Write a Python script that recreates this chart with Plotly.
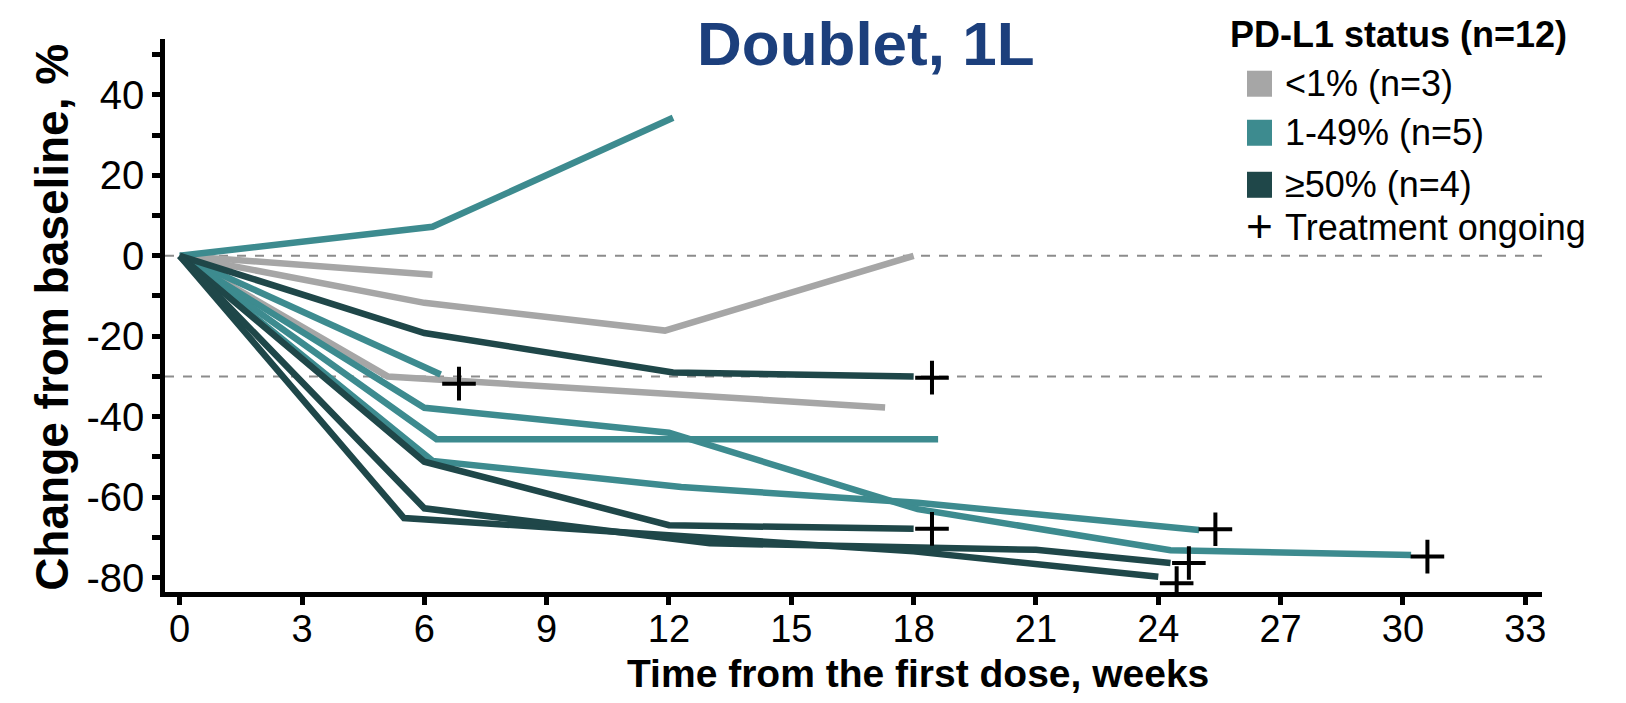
import plotly.graph_objects as go

# Weeks since first dose / % change from baseline, one list per patient
LOW_WEEKS = [[0, 6.2], [0, 6, 11.9, 18], [0, 5.1, 17.3]]
LOW_CHANGE = [[0, -4.7], [0, -11.7, -18.6, 0], [0, -30, -37.7]]

MID_WEEKS = [
    [0, 6.2, 12.1],
    [0, 6.4],
    [0, 6, 12, 18.1, 24.3, 30.2],
    [0, 6.3, 18.6],
    [0, 6.2, 12.3, 18.1, 25],
]
MID_CHANGE = [
    [0, 7.2, 34.3],
    [0, -29.5],
    [0, -37.8, -44, -63, -73.2, -74.4],
    [0, -45.6, -45.6],
    [0, -51, -57.5, -61.4, -68.2],
]

HIGH_WEEKS = [[0, 6, 12.1, 18], [0, 6, 12, 18], [0, 5.5, 12, 18, 24], [0, 6, 13, 21, 24.3]]
HIGH_CHANGE = [
    [0, -19.2, -29, -30],
    [0, -51.2, -67, -67.9],
    [0, -65.2, -69.5, -73.5, -79.8],
    [0, -62.8, -71.5, -73.1, -76.4],
]

ONGOING_WEEKS = [6.85, 18.45, 18.45, 24.45, 24.75, 25.4, 30.6]
ONGOING_CHANGE = [-31.8, -30.3, -67.9, -81.4, -76.4, -68, -74.8]

GROUP_LABELS = ["<1% (n=3)", "1-49% (n=5)", "≥50% (n=4)"]
GROUP_COLORS = ["#a6a6a6", "#3d8b8f", "#1f4749"]

X_TICKS = list(range(0, 34, 3))
Y_TICKS = list(range(-80, 41, 20))
Y_TICKTEXT = [str(v) for v in Y_TICKS]  # plain hyphen, not unicode minus

# page body has an 8px margin, so the figure is drawn 8px in from the corner
PAGE_OFF = 8
W, H = 1626 - 2 * PAGE_OFF, 703 - 2 * PAGE_OFF
PLOT_L, PLOT_R, PLOT_T, PLOT_B = 165, 1542, 39.3, 592


def px(x):
    return (x - PLOT_L) / (PLOT_R - PLOT_L)


def py(y):
    return (PLOT_B - y) / (PLOT_B - PLOT_T)


fig = go.Figure()

groups = [(LOW_WEEKS, LOW_CHANGE), (MID_WEEKS, MID_CHANGE), (HIGH_WEEKS, HIGH_CHANGE)]
for (weeks, change), color in zip(groups, GROUP_COLORS):
    for xs, ys in zip(weeks, change):
        fig.add_trace(
            go.Scatter(
                x=xs,
                y=ys,
                mode="lines",
                line={"color": color, "width": 6.5},
                showlegend=False,
            )
        )

fig.add_trace(
    go.Scatter(
        x=ONGOING_WEEKS,
        y=ONGOING_CHANGE,
        mode="markers",
        marker={"symbol": "cross-thin-open", "size": 24, "color": "black",
                "line": {"color": "black", "width": 4}},
        showlegend=False,
    )
)

for yv in (0, -30):
    fig.add_hline(y=yv, line={"color": "#8c8c8c", "width": 2, "dash": "dash"}, layer="below")


def note(text, x, y, size, bold=False, color="black", xanchor="center", angle=0):
    fig.add_annotation(
        text=f"<b>{text}</b>" if bold else text,
        x=px(x), y=py(y), xref="paper", yref="paper",
        xanchor=xanchor, yanchor="middle", showarrow=False, textangle=angle,
        font={"size": size, "color": color, "family": "Arial"},
    )


note("Doublet, 1L", 866, 44, 62, bold=True, color="#1c3f7c")
note("Time from the first dose, weeks", 918, 673, 39, bold=True)
note("Change from baseline, %", 52, 318, 46, bold=True, angle=-90)

# hand-built legend
note("PD-L1 status (n=12)", 1228, 35, 36, bold=True, xanchor="left")
row_y = [84, 133, 185]
for label, color, ry in zip(GROUP_LABELS, GROUP_COLORS, row_y):
    fig.add_shape(type="rect", xref="paper", yref="paper", x0=px(1247), x1=px(1272),
                  y0=py(ry + 13), y1=py(ry - 13), fillcolor=color, line={"width": 0})
    note(label, 1283, ry, 36, xanchor="left")
note("+", 1259.5, 226, 46)
note("Treatment ongoing", 1283, 228, 36, xanchor="left")

axis_common = {
    "ticks": "outside",
    "ticklen": 8,
    "tickwidth": 5,
    "tickcolor": "black",
    "showline": True,
    "linewidth": 4.5,
    "linecolor": "black",
    "showgrid": False,
    "zeroline": False,
    "tickfont": {"size": 40, "color": "black", "family": "Arial"},
}

fig.update_layout(
    width=W,
    height=H,
    margin={"l": PLOT_L - PAGE_OFF, "r": W + PAGE_OFF - PLOT_R,
            "t": PLOT_T - PAGE_OFF, "b": H + PAGE_OFF - PLOT_B},
    plot_bgcolor="white",
    paper_bgcolor="white",
    xaxis={**axis_common, "range": [-0.36, 33.41], "tickvals": X_TICKS, "ticklabelstandoff": -8,
           "tickfont": {"size": 38, "color": "black", "family": "Arial"}},
    yaxis={
        **axis_common,
        "range": [-83.6, 53.9],
        "tickvals": Y_TICKS,
        "ticktext": Y_TICKTEXT,
        "minor": {"dtick": 10, "ticks": "outside", "ticklen": 8, "tickwidth": 5, "tickcolor": "black"},
    },
)

fig.write_html("out.html")
